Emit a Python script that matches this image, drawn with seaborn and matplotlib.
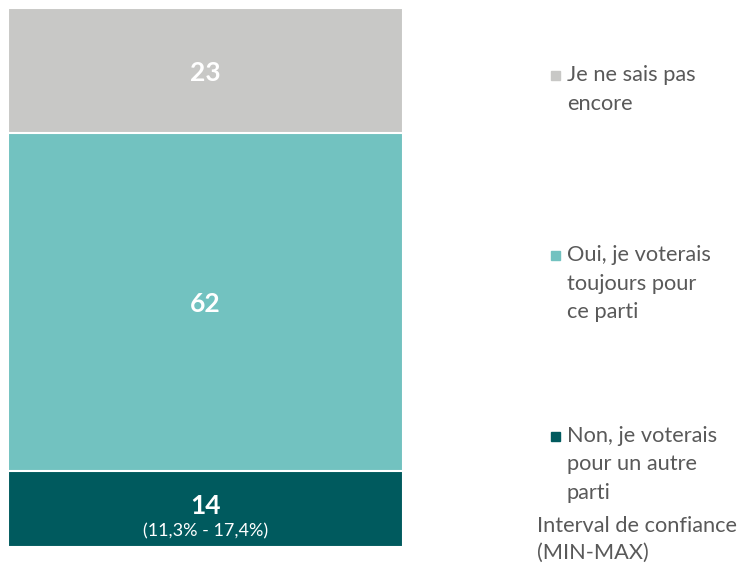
import matplotlib.pyplot as plt
import matplotlib.patches as mpatches
import seaborn as sns
import pandas as pd

# ------------------
# Data
# ------------------
categories = ['Non, je voterais\npour un autre\nparti',
              'Oui, je voterais\ntoujours pour\nce parti',
              'Je ne sais pas\nencore']
values = [14, 62, 23]
colors = ['#005A5E', '#72C2C0', '#C8C8C6']
ci_label = '(11,3% - 17,4%)'
ci_note = 'Interval de confiance\n(MIN-MAX)'

# cumulative tops for stacking
tops = pd.Series(values).cumsum().tolist()

# ------------------
# Plotting
# ------------------
sns.set_style('white')
plt.rcParams['font.family'] = ['Lato', 'DejaVu Sans']
W, H = 742, 564
fig = plt.figure(figsize=(W / 100, H / 100), dpi=100)
ax = fig.add_axes([8 / W, 17 / H, 395 / W, 539 / H])

# draw from the top segment down so each one covers the rest
for i in reversed(range(len(values))):
    sns.barplot(x=['total'], y=[tops[i]], color=colors[i], width=1.0,
                saturation=1, edgecolor='white', linewidth=1.5, ax=ax)

ax.set_xlim(-0.5, 0.5)
ax.set_ylim(0, sum(values))
ax.axis('off')

# value labels
for i, v in enumerate(values):
    mid = tops[i] - v / 2
    if i == 0:
        ax.text(0, mid + 0.5, str(v), ha='center', va='center',
                color='white', fontsize=19, fontweight='bold')
        ax.text(0, mid - 4.2, ci_label, ha='center', va='center',
                color='white', fontsize=13)
    else:
        ax.text(0, mid - 0.4, str(v), ha='center', va='center',
                color='white', fontsize=19, fontweight='bold')

# legend, drawn by hand to match spacing
txt_col = '#595959'
first_line_y = [436, 255, 75]
line_gap = 28.5
for i, lab in enumerate(categories):
    y0 = first_line_y[i]
    fig.patches.append(mpatches.Rectangle(
        (551 / W, 1 - (y0 + 4.5) / H), 8.5 / W, 8.5 / H,
        transform=fig.transFigure, color=colors[i]))
    for j, line in enumerate(lab.split('\n')):
        fig.text(567 / W, 1 - (y0 + j * line_gap) / H, line,
                 ha='left', va='center', color=txt_col, fontsize=15.7)

for j, line in enumerate(ci_note.split('\n')):
    fig.text(537 / W, 1 - (526 + j * 27) / H, line,
             ha='left', va='center', color=txt_col, fontsize=15.7)

plt.savefig('out.png', dpi=100)
plt.close('all')
